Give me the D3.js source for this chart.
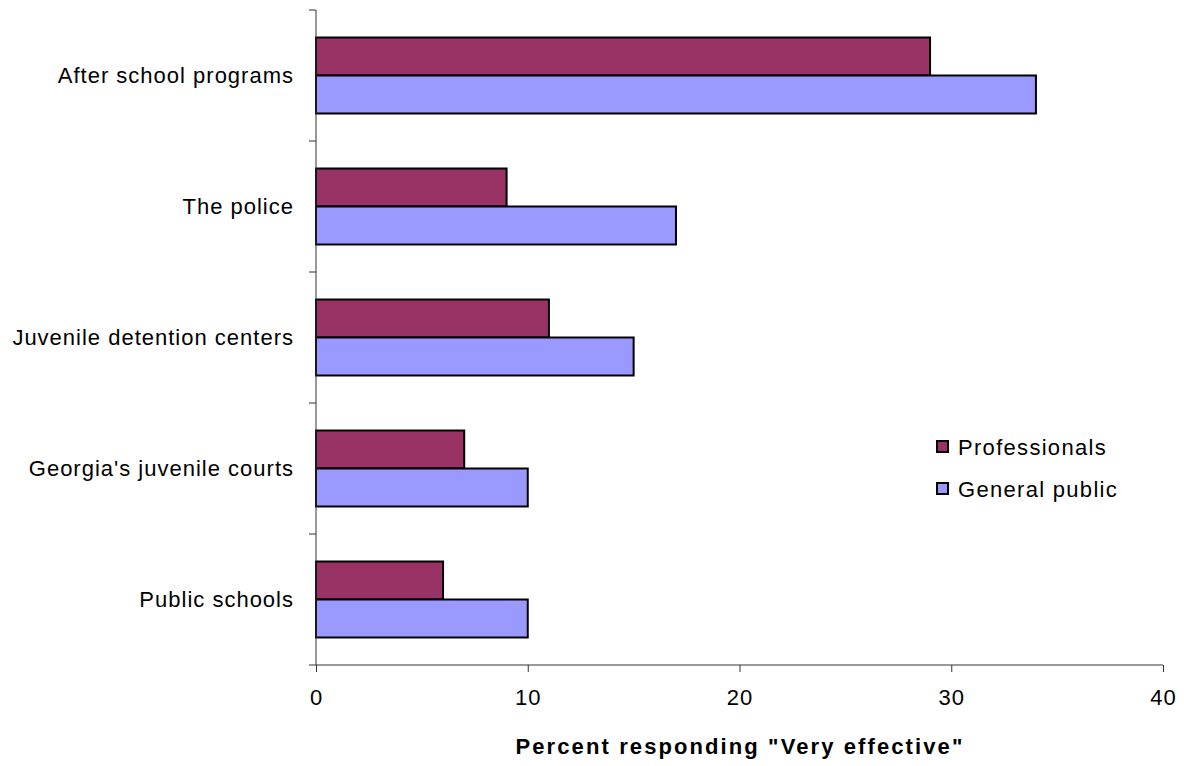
<!DOCTYPE html>
<html><head><meta charset="utf-8">
<script src="https://cdn.jsdelivr.net/npm/d3@7"></script>
<style>body{margin:0;background:#fff;} text{font-family:"Liberation Sans",Arial,sans-serif;}</style>
</head><body><svg id="c" width="1184" height="766"></svg>
<script>
const categories = ["After school programs","The police","Juvenile detention centers","Georgia's juvenile courts","Public schools"];
const professionals = [29, 9, 11, 7, 6];
const generalPublic = [34, 17, 15, 10, 10];
const seriesNames = ["Professionals","General public"];
const seriesColors = ["#993366","#9999FF"];
const xTicks = [0,10,20,30,40];
const xTitle = 'Percent responding "Very effective"';

const svg = d3.select("#c");
const m = {l:316, r:1163, t:10, b:665};
const x = d3.scaleLinear().domain([0,40]).range([m.l, m.r]);
const y = d3.scaleBand().domain(categories).range([m.t, m.b]).paddingInner(0.42).paddingOuter(0.21);
const ys = d3.scaleBand().domain(seriesNames).range([0, y.bandwidth()]);
const series = [professionals, generalPublic];

// bars
series.forEach((vals, si) => {
  svg.append("g").selectAll("rect").data(categories).join("rect")
    .attr("x", x(0)).attr("y", (d) => y(d) + ys(seriesNames[si]))
    .attr("width", (d,i) => x(vals[i]) - x(0)).attr("height", ys.bandwidth())
    .attr("fill", seriesColors[si]).attr("stroke", "#000").attr("stroke-width", 2);
});

// y axis
const gy = svg.append("g");
gy.append("line").attr("x1", m.l).attr("x2", m.l).attr("y1", m.t).attr("y2", m.b).attr("stroke", "#333").attr("stroke-width", 1);
const step = (m.b - m.t) / categories.length;
d3.range(categories.length + 1).forEach(i => {
  const yy = m.t + i * step;
  gy.append("line").attr("x1", m.l - 7).attr("x2", m.l).attr("y1", yy).attr("y2", yy).attr("stroke", "#333");
});
gy.selectAll("text").data(categories).join("text")
  .attr("x", 294).attr("y", d => y(d) + y.bandwidth()/2).attr("dy", "0.35em")
  .attr("text-anchor", "end").attr("font-size", 22).attr("letter-spacing", 1).attr("fill", "#000").text(d => d);

// x axis
const gx = svg.append("g").attr("transform", `translate(0,${m.b})`)
  .call(d3.axisBottom(x).tickValues(xTicks).tickSize(7).tickPadding(17).tickFormat(d3.format("d")));
gx.select(".domain").attr("stroke", "#333").attr("d", `M${m.l},0H${m.r}`);
gx.selectAll(".tick line").attr("stroke", "#333");
gx.selectAll("text").attr("font-size", 22).attr("letter-spacing", 1).attr("fill", "#000").attr("font-family", '"Liberation Sans",Arial,sans-serif');

svg.append("text").attr("x", 740).attr("y", 754).attr("text-anchor", "middle")
  .attr("font-size", 22).attr("font-weight", "bold").attr("letter-spacing", 2.1).text(xTitle);

// legend
const lg = svg.append("g");
seriesNames.forEach((n, i) => {
  const ly = 447 + i * 42;
  lg.append("rect").attr("x", 937).attr("y", ly - 6).attr("width", 11).attr("height", 11)
    .attr("fill", seriesColors[i]).attr("stroke", "#000").attr("stroke-width", 2);
  lg.append("text").attr("x", 958).attr("y", ly).attr("dy", "0.35em").attr("font-size", 22).attr("letter-spacing", 1.3).text(n);
});
</script></body></html>
